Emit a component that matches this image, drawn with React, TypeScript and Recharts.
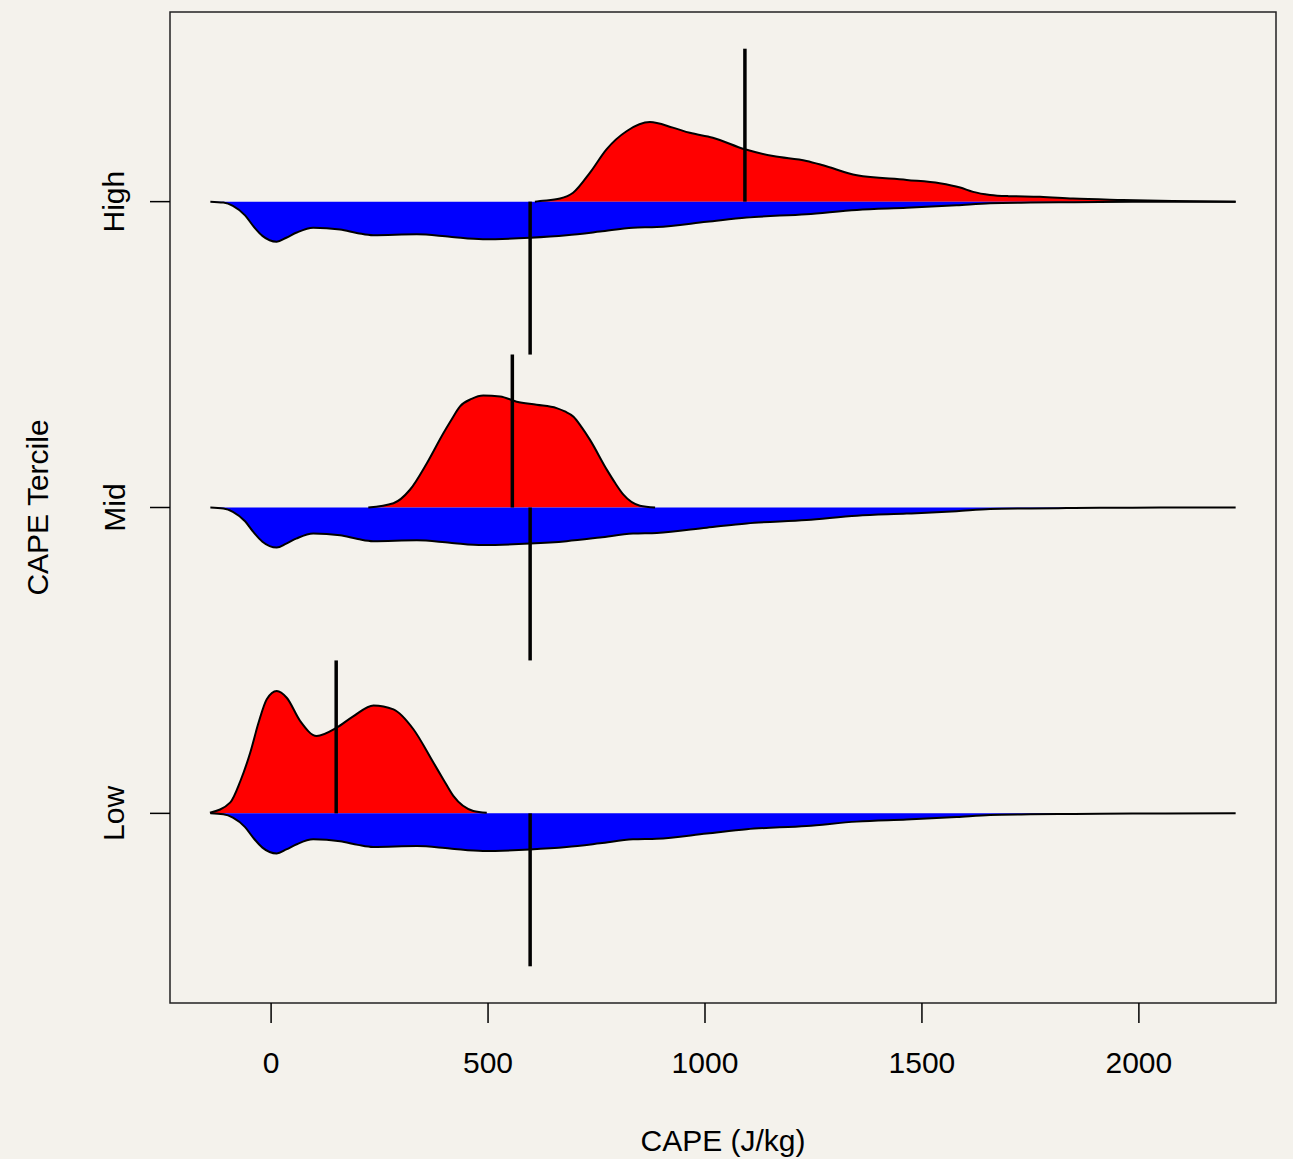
import {
  ComposedChart,
  Area,
  Line,
  XAxis,
  YAxis,
  ReferenceLine,
  ReferenceArea,
} from "recharts";

// Row labels sit at y = 1, 2, 3 (Low, Mid, High)
const rowLabels = ["Low", "Mid", "High"];
const xTicks = [0, 500, 1000, 1500, 2000];

// Overall CAPE density (blue, drawn below every row)
const allCape = [
  -140, -110, -88, -60, -41, -20, 13, 35, 59, 97, 159, 200, 235, 336, 412, 488, 597, 681, 758,
  834, 889, 1004, 1096, 1234, 1350, 1465, 1580, 1657, 1750, 1833, 1910, 2050, 2223,
];
const allDensity = [
  0, 0.003, 0.014, 0.045, 0.08, 0.112, 0.131, 0.118, 0.101, 0.085, 0.091, 0.103, 0.11, 0.107,
  0.115, 0.123, 0.118, 0.11, 0.098, 0.085, 0.083, 0.066, 0.052, 0.041, 0.027, 0.02, 0.012, 0.005,
  0.003, 0.002, 0.001, 0.0004, 0,
];

// Tercile densities (red, drawn above each row)
const lowCape = [
  -141, -94, -71, -48, -29, -10, 13, 36, 67, 105, 151, 190, 236, 282, 328, 374, 397, 420, 466, 497,
];
const lowDensity = [
  0.002, 0.036, 0.105, 0.199, 0.296, 0.373, 0.4, 0.378, 0.302, 0.253, 0.28, 0.318, 0.353, 0.34,
  0.275, 0.166, 0.111, 0.057, 0.008, 0.002,
];

const midCape = [
  224, 282, 320, 359, 397, 416, 435, 462, 489, 528, 566, 612, 658, 677, 697, 716, 735, 774, 793,
  812, 850, 885,
];
const midDensity = [
  0, 0.014, 0.058, 0.145, 0.243, 0.288, 0.33, 0.355, 0.366, 0.363, 0.346, 0.336, 0.325, 0.314,
  0.297, 0.262, 0.221, 0.123, 0.08, 0.042, 0.006, 0,
];

const highCape = [
  608, 620, 666, 696, 735, 773, 820, 873, 926, 965, 1018, 1092, 1157, 1234, 1272, 1350, 1465, 1541,
  1588, 1618, 1657, 1700, 1772, 1848, 1963, 2078, 2223,
];
const highDensity = [
  0, 0.002, 0.01, 0.029, 0.095, 0.171, 0.231, 0.26, 0.242, 0.225, 0.209, 0.171, 0.149, 0.133,
  0.119, 0.086, 0.071, 0.06, 0.046, 0.032, 0.022, 0.018, 0.016, 0.01, 0.0055, 0.002, 0,
];

const groupMedians = [150, 556, 1092];
const overallMedian = 597;
const BEAN_LINE = 0.5;

const X_DOMAIN: [number, number] = [-233, 2316];
const Y_DOMAIN: [number, number] = [0.38, 3.62];
const FONT = "'Liberation Sans', Arial, Helvetica, sans-serif";
const BG = "#f4f2ec";

type Row = { cape: number; all?: number; g0?: number; g1?: number; g2?: number };
type GroupKey = "g0" | "g1" | "g2";
const groupKeys: GroupKey[] = ["g0", "g1", "g2"];

function buildTable(): Row[] {
  const byX = new Map<number, Row>();
  const put = (xs: number[], ys: number[], key: "all" | GroupKey) => {
    xs.forEach((x, i) => {
      const r = byX.get(x) ?? { cape: x };
      r[key] = ys[i];
      byX.set(x, r);
    });
  };
  put(allCape, allDensity, "all");
  put(lowCape, lowDensity, "g0");
  put(midCape, midDensity, "g1");
  put(highCape, highDensity, "g2");
  return [...byX.values()].sort((a, b) => a.cape - b.cape);
}

const data = buildTable();

const XTick = ({ x, y, payload }: any) => (
  <text x={x} y={y + 37} textAnchor="middle" dominantBaseline="central" fontSize={30} fill="#000" fontFamily={FONT}>
    {payload.value}
  </text>
);

const YTick = ({ x, y, payload }: any) => {
  const cx = x - 34;
  return (
    <text
      x={cx}
      y={y}
      transform={`rotate(-90, ${cx}, ${y})`}
      textAnchor="middle"
      dominantBaseline="central"
      fontSize={30}
      fill="#000"
      fontFamily={FONT}
    >
      {rowLabels[payload.value - 1]}
    </text>
  );
};

export default function App() {
  return (
    <div style={{ position: "absolute", left: 0, top: 0, width: 1293, height: 1159, background: BG }}>
      <ComposedChart
        width={1293}
        height={1159}
        data={data}
        margin={{ top: 12, right: 17, bottom: 0, left: 0 }}
        style={{ fontFamily: FONT }}
      >
        <XAxis
          dataKey="cape"
          type="number"
          domain={X_DOMAIN}
          allowDataOverflow
          ticks={xTicks}
          tickSize={20}
          height={156}
          axisLine={false}
          tickLine={{ stroke: "#000", strokeWidth: 1.5 }}
          tick={<XTick />}
          label={{
            content: ({ viewBox }: any) => (
              <text
                x={viewBox.x + viewBox.width / 2}
                y={viewBox.y + 137}
                textAnchor="middle"
                dominantBaseline="central"
                fontSize={30}
                fill="#000"
                fontFamily={FONT}
              >
                CAPE (J/kg)
              </text>
            ),
          }}
        />
        <YAxis
          type="number"
          domain={Y_DOMAIN}
          allowDataOverflow
          ticks={[1, 2, 3]}
          tickSize={20}
          width={170}
          axisLine={false}
          tickLine={{ stroke: "#000", strokeWidth: 1.5 }}
          tick={<YTick />}
          label={{
            content: ({ viewBox }: any) => {
              const cx = viewBox.x + 37;
              const cy = viewBox.y + viewBox.height / 2;
              return (
                <text
                  x={cx}
                  y={cy}
                  transform={`rotate(-90, ${cx}, ${cy})`}
                  textAnchor="middle"
                  dominantBaseline="central"
                  fontSize={30}
                  fill="#000"
                  fontFamily={FONT}
                >
                  CAPE Tercile
                </text>
              );
            },
          }}
        />

        {groupKeys.map((gk, i) => {
          const pos = i + 1;
          return [
            <Area
              key={`red-${gk}`}
              type="monotone"
              dataKey={(d: Row) => (d[gk] === undefined ? undefined : [pos, pos + (d[gk] as number)])}
              fill="#ff0000"
              fillOpacity={1}
              stroke="none"
              connectNulls
              dot={false}
              activeDot={false}
              isAnimationActive={false}
            />,
            <Area
              key={`blue-${gk}`}
              type="monotone"
              dataKey={(d: Row) => (d.all === undefined ? undefined : [pos - d.all, pos])}
              fill="#0000ff"
              fillOpacity={1}
              stroke="none"
              connectNulls
              dot={false}
              activeDot={false}
              isAnimationActive={false}
            />,
            <Line
              key={`red-outline-${gk}`}
              type="monotone"
              dataKey={(d: Row) => (d[gk] === undefined ? undefined : pos + (d[gk] as number))}
              stroke="#000"
              strokeWidth={2}
              dot={false}
              activeDot={false}
              connectNulls
              isAnimationActive={false}
            />,
            <Line
              key={`blue-outline-${gk}`}
              type="monotone"
              dataKey={(d: Row) => (d.all === undefined ? undefined : pos - d.all)}
              stroke="#000"
              strokeWidth={2}
              dot={false}
              activeDot={false}
              connectNulls
              isAnimationActive={false}
            />,
          ];
        })}

        {groupMedians.map((m, i) => (
          <ReferenceLine
            key={`med-${i}`}
            segment={[
              { x: m, y: i + 1 },
              { x: m, y: i + 1 + BEAN_LINE },
            ]}
            stroke="#000"
            strokeWidth={3.5}
          />
        ))}
        {rowLabels.map((_, i) => (
          <ReferenceLine
            key={`all-med-${i}`}
            segment={[
              { x: overallMedian, y: i + 1 },
              { x: overallMedian, y: i + 1 - BEAN_LINE },
            ]}
            stroke="#000"
            strokeWidth={3.5}
          />
        ))}

        <ReferenceArea
          x1={X_DOMAIN[0]}
          x2={X_DOMAIN[1]}
          y1={Y_DOMAIN[0]}
          y2={Y_DOMAIN[1]}
          fill="none"
          fillOpacity={0}
          stroke="#222"
          strokeWidth={1.5}
          strokeOpacity={1}
        />
      </ComposedChart>
    </div>
  );
}
